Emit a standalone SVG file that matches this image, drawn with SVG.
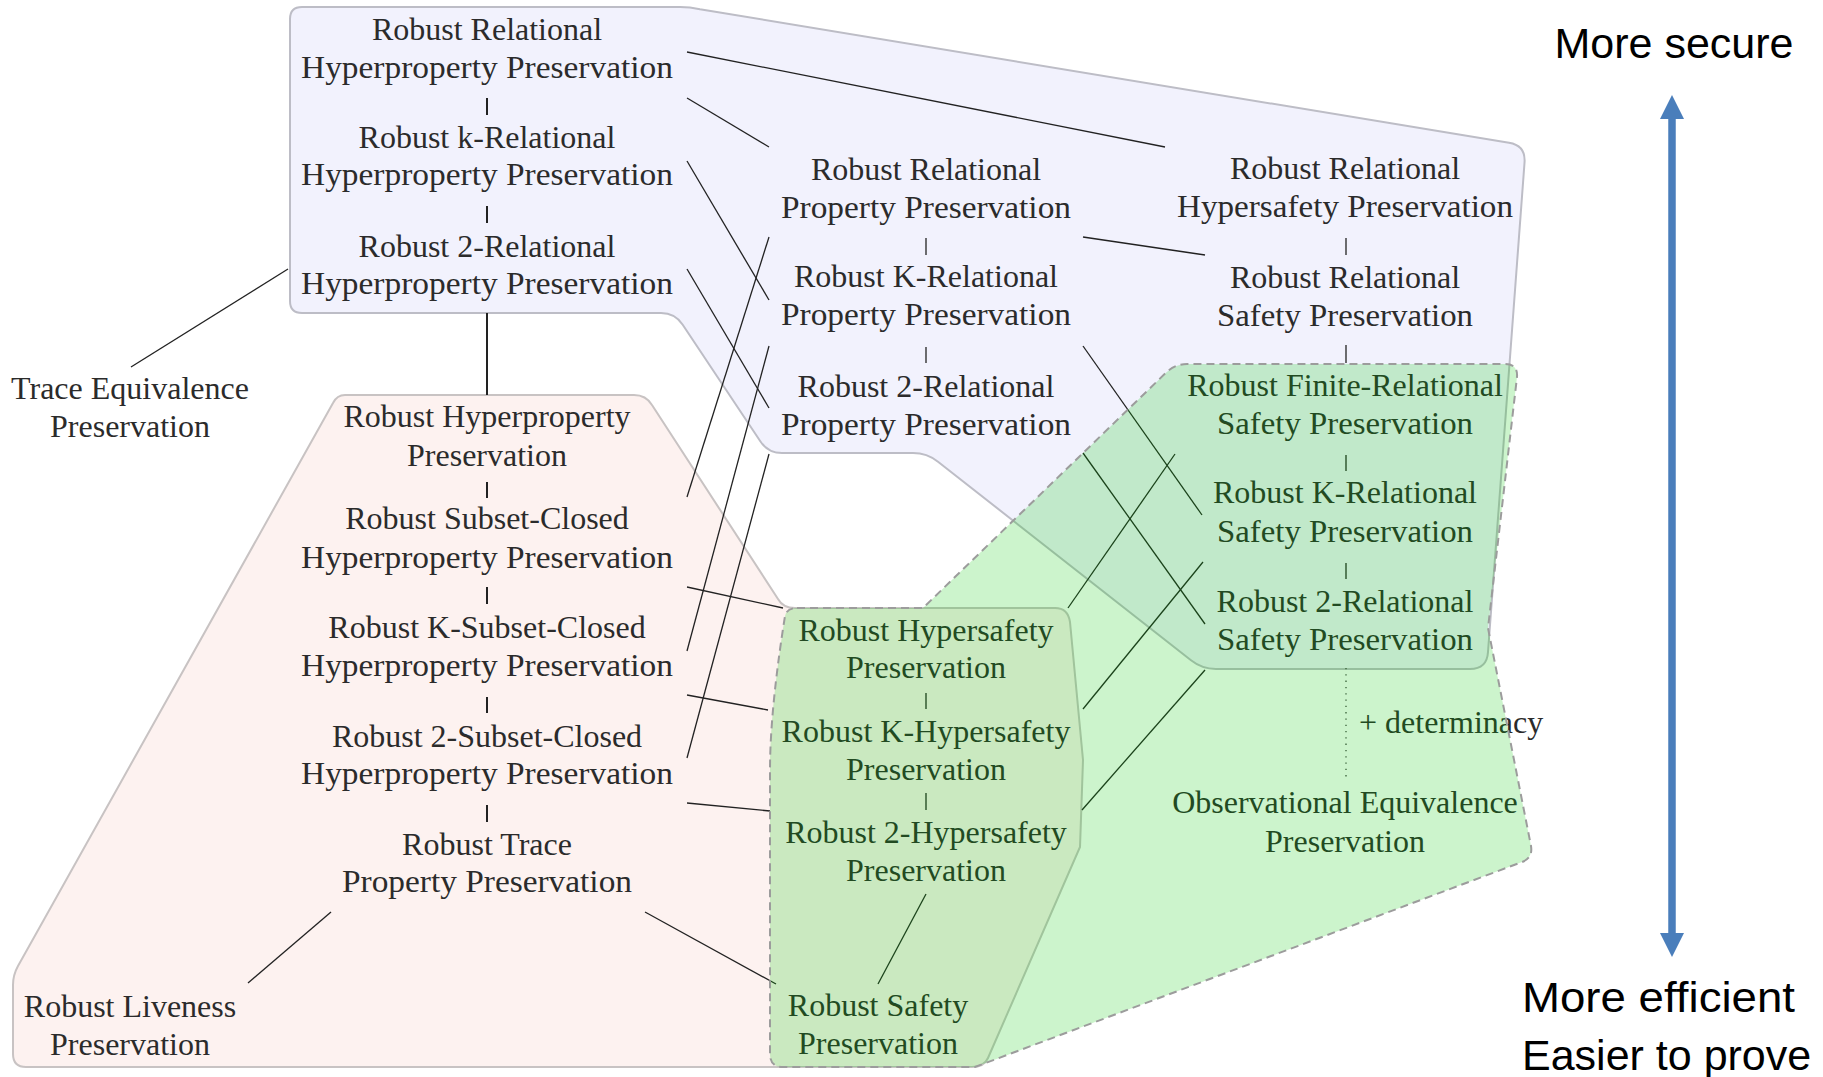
<svg xmlns="http://www.w3.org/2000/svg" width="1823" height="1077" viewBox="0 0 1823 1077">
  <style>
    .t { font-family: "Liberation Serif", "Times New Roman", serif; font-size: 32px; fill: #2b2b2b; text-anchor: middle; }
    .det { text-anchor: start; }
    .c { stroke: #222; stroke-width: 1.3; fill: none; }
    .tk { stroke: #222; stroke-width: 1.3; }
    .tkl { stroke: #222; stroke-width: 2; }
    .dot { stroke: #444; stroke-width: 1.3; stroke-dasharray: 1.3 5; }
    .lbl { font-family: "Liberation Sans", Arial, sans-serif; font-size: 43px; fill: #000; }
    .zone-blue { fill: #f2f2fd; stroke: #bdbdc6; stroke-width: 2; }
    .zone-pink { fill: #fdf2f0; stroke: #c8c3c3; stroke-width: 2; }
    .zone-green { fill: #00c800; fill-opacity: 0.2; stroke: #9c9c9c; stroke-width: 2; stroke-dasharray: 8 5; }
  </style>
  <defs>
    <marker id="head" markerUnits="userSpaceOnUse" markerWidth="24" markerHeight="24" viewBox="0 0 24 24" refX="1" refY="12" orient="auto-start-reverse">
      <path d="M0,0 L24,12 L0,24 Z" fill="#4a7ebb"/>
    </marker>
  </defs>

  <rect width="1823" height="1077" fill="#ffffff"/>

  <!-- background zones -->
  <g id="zones">
    <path class="zone-blue" d="M302,7 L680,7 Q690,7 700,9.3 L1509,142.8 Q1526,145.5 1524.5,163 L1488,652 Q1487,669 1470,669 L1216,669 Q1202,669 1191,660.3 L938,461.7 Q927,453 913,453 L782,453 Q768,453 760.3,441.3 L682.7,324.7 Q675,313 661,313 L302,313 Q290,313 290,301 L290,19 Q290,7 302,7 Z"/>
    <path class="zone-pink" d="M345,395 L634,395 Q646,395 652,405 L778,599 Q783,608 795,608 L1055,608 Q1068,608 1070,622 L1083,760 L1080,847 L988,1058 Q984,1067 972,1067 L26,1067 Q13,1067 13,1054 L13,985 Q13,975 18,966 L333,403 Q337,395 345,395 Z"/>
  </g>

  <!-- connectors -->
  <g id="connectors">
    <!-- vertical chains -->
    <line class="tkl" x1="487" y1="98" x2="487" y2="115"/>
    <line class="tkl" x1="487" y1="206" x2="487" y2="223"/>
    <line class="tkl" x1="487" y1="313" x2="487" y2="395"/>
    <line class="tkl" x1="487" y1="482" x2="487" y2="498"/>
    <line class="tkl" x1="487" y1="587" x2="487" y2="604"/>
    <line class="tkl" x1="487" y1="697" x2="487" y2="713"/>
    <line class="tkl" x1="487" y1="805" x2="487" y2="822"/>
    <line class="tk" x1="926" y1="238" x2="926" y2="255"/>
    <line class="tk" x1="926" y1="347" x2="926" y2="363"/>
    <line class="tk" x1="926" y1="693" x2="926" y2="709"/>
    <line class="tk" x1="926" y1="793" x2="926" y2="810"/>
    <line class="tk" x1="1346" y1="238" x2="1346" y2="255"/>
    <line class="tk" x1="1346" y1="345" x2="1346" y2="363"/>
    <line class="tk" x1="1346" y1="455" x2="1346" y2="471"/>
    <line class="tk" x1="1346" y1="563" x2="1346" y2="579"/>
    <line class="dot" x1="1346" y1="668" x2="1346" y2="778"/>
    <!-- relational hyperproperties to relational properties -->
    <line class="c" x1="687" y1="52" x2="1165" y2="147"/>
    <line class="c" x1="687" y1="98" x2="769" y2="147"/>
    <line class="c" x1="687" y1="161" x2="769" y2="300"/>
    <line class="c" x1="687" y1="269" x2="769" y2="408"/>
    <line class="c" x1="288" y1="269" x2="131" y2="367"/>
    <!-- relational properties to relational safety -->
    <line class="c" x1="1083" y1="237" x2="1205" y2="255"/>
    <line class="c" x1="1083" y1="346" x2="1202" y2="515"/>
    <line class="c" x1="1083" y1="453" x2="1205" y2="624"/>
    <!-- subset-closed hyperproperties to relational properties -->
    <line class="c" x1="687" y1="497" x2="769" y2="237"/>
    <line class="c" x1="687" y1="651" x2="769" y2="346"/>
    <line class="c" x1="687" y1="758" x2="769" y2="454"/>
    <!-- subset-closed hyperproperties to hypersafety -->
    <line class="c" x1="687" y1="587" x2="783" y2="608"/>
    <line class="c" x1="687" y1="695" x2="768" y2="710"/>
    <line class="c" x1="687" y1="803" x2="770" y2="811"/>
    <line class="c" x1="645" y1="912" x2="776" y2="984"/>
    <line class="c" x1="331" y1="912" x2="248" y2="983"/>
    <!-- hypersafety to relational safety -->
    <line class="c" x1="1068" y1="608" x2="1175" y2="454"/>
    <line class="c" x1="1083" y1="709" x2="1203" y2="562"/>
    <line class="c" x1="1082" y1="810" x2="1205" y2="670"/>
    <line class="c" x1="926" y1="894" x2="878" y2="984"/>
  </g>

  <!-- nodes -->
  <g id="n-rrhp"><text class="t" x="487" y="40">Robust Relational</text><text class="t" x="487" y="78" textLength="372" lengthAdjust="spacingAndGlyphs">Hyperproperty Preservation</text></g>
  <g id="n-rkhp"><text class="t" x="487" y="148">Robust k-Relational</text><text class="t" x="487" y="185" textLength="372" lengthAdjust="spacingAndGlyphs">Hyperproperty Preservation</text></g>
  <g id="n-r2hp"><text class="t" x="487" y="257">Robust 2-Relational</text><text class="t" x="487" y="294" textLength="372" lengthAdjust="spacingAndGlyphs">Hyperproperty Preservation</text></g>
  <g id="n-rhp"><text class="t" x="487" y="427">Robust Hyperproperty</text><text class="t" x="487" y="466">Preservation</text></g>
  <g id="n-rschp"><text class="t" x="487" y="529">Robust Subset-Closed</text><text class="t" x="487" y="568" textLength="372" lengthAdjust="spacingAndGlyphs">Hyperproperty Preservation</text></g>
  <g id="n-rkschp"><text class="t" x="487" y="638">Robust K-Subset-Closed</text><text class="t" x="487" y="676" textLength="372" lengthAdjust="spacingAndGlyphs">Hyperproperty Preservation</text></g>
  <g id="n-r2schp"><text class="t" x="487" y="747">Robust 2-Subset-Closed</text><text class="t" x="487" y="784" textLength="372" lengthAdjust="spacingAndGlyphs">Hyperproperty Preservation</text></g>
  <g id="n-rtp"><text class="t" x="487" y="855">Robust Trace</text><text class="t" x="487" y="892" textLength="290" lengthAdjust="spacingAndGlyphs">Property Preservation</text></g>
  <g id="n-rlp"><text class="t" x="130" y="1017">Robust Liveness</text><text class="t" x="130" y="1055">Preservation</text></g>
  <g id="n-tep"><text class="t" x="130" y="399">Trace Equivalence</text><text class="t" x="130" y="437">Preservation</text></g>

  <g id="n-rrp"><text class="t" x="926" y="180">Robust Relational</text><text class="t" x="926" y="218" textLength="290" lengthAdjust="spacingAndGlyphs">Property Preservation</text></g>
  <g id="n-rkp"><text class="t" x="926" y="287">Robust K-Relational</text><text class="t" x="926" y="325" textLength="290" lengthAdjust="spacingAndGlyphs">Property Preservation</text></g>
  <g id="n-r2p"><text class="t" x="926" y="397">Robust 2-Relational</text><text class="t" x="926" y="435" textLength="290" lengthAdjust="spacingAndGlyphs">Property Preservation</text></g>
  <g id="n-rhs"><text class="t" x="926" y="641">Robust Hypersafety</text><text class="t" x="926" y="678">Preservation</text></g>
  <g id="n-rkhs"><text class="t" x="926" y="742">Robust K-Hypersafety</text><text class="t" x="926" y="780">Preservation</text></g>
  <g id="n-r2hs"><text class="t" x="926" y="843">Robust 2-Hypersafety</text><text class="t" x="926" y="881">Preservation</text></g>
  <g id="n-rsp"><text class="t" x="878" y="1016">Robust Safety</text><text class="t" x="878" y="1054">Preservation</text></g>

  <g id="n-rrhs"><text class="t" x="1345" y="179">Robust Relational</text><text class="t" x="1345" y="217" textLength="336" lengthAdjust="spacingAndGlyphs">Hypersafety Preservation</text></g>
  <g id="n-rrs"><text class="t" x="1345" y="288">Robust Relational</text><text class="t" x="1345" y="326" textLength="256" lengthAdjust="spacingAndGlyphs">Safety Preservation</text></g>
  <g id="n-rfrs"><text class="t" x="1345" y="396">Robust Finite-Relational</text><text class="t" x="1345" y="434" textLength="256" lengthAdjust="spacingAndGlyphs">Safety Preservation</text></g>
  <g id="n-rkrs"><text class="t" x="1345" y="503">Robust K-Relational</text><text class="t" x="1345" y="542" textLength="256" lengthAdjust="spacingAndGlyphs">Safety Preservation</text></g>
  <g id="n-r2rs"><text class="t" x="1345" y="612">Robust 2-Relational</text><text class="t" x="1345" y="650" textLength="256" lengthAdjust="spacingAndGlyphs">Safety Preservation</text></g>
  <g id="n-oep"><text class="t" x="1345" y="813">Observational Equivalence</text><text class="t" x="1345" y="852">Preservation</text></g>
  <g id="n-det"><text class="t det" x="1359" y="733">+ determinacy</text></g>

  <!-- safety zone, tinted over everything beneath -->
  <g id="zone-safety">
    <path class="zone-green" d="M797,608 L923,608 L1166,372.7 Q1175,364 1187,364 L1505,364 Q1518,364 1517,377 L1488,628 L1531,846 Q1533,858 1522,862 L975,1067 L783,1067 Q770,1067 770,1054 L770,770 C770,720 778,660 785,616 Q787,608 797,608 Z"/>
  </g>

  <!-- scale axis -->
  <g id="axis">
    <line x1="1672" y1="118" x2="1672" y2="934" stroke="#4a7ebb" stroke-width="7.5" marker-start="url(#head)" marker-end="url(#head)"/>
    <text class="lbl" x="1674" y="58" text-anchor="middle">More secure</text>
    <text class="lbl" x="1522" y="1012" textLength="273" lengthAdjust="spacingAndGlyphs">More efficient</text>
    <text class="lbl" x="1522" y="1070">Easier to prove</text>
  </g>
</svg>
